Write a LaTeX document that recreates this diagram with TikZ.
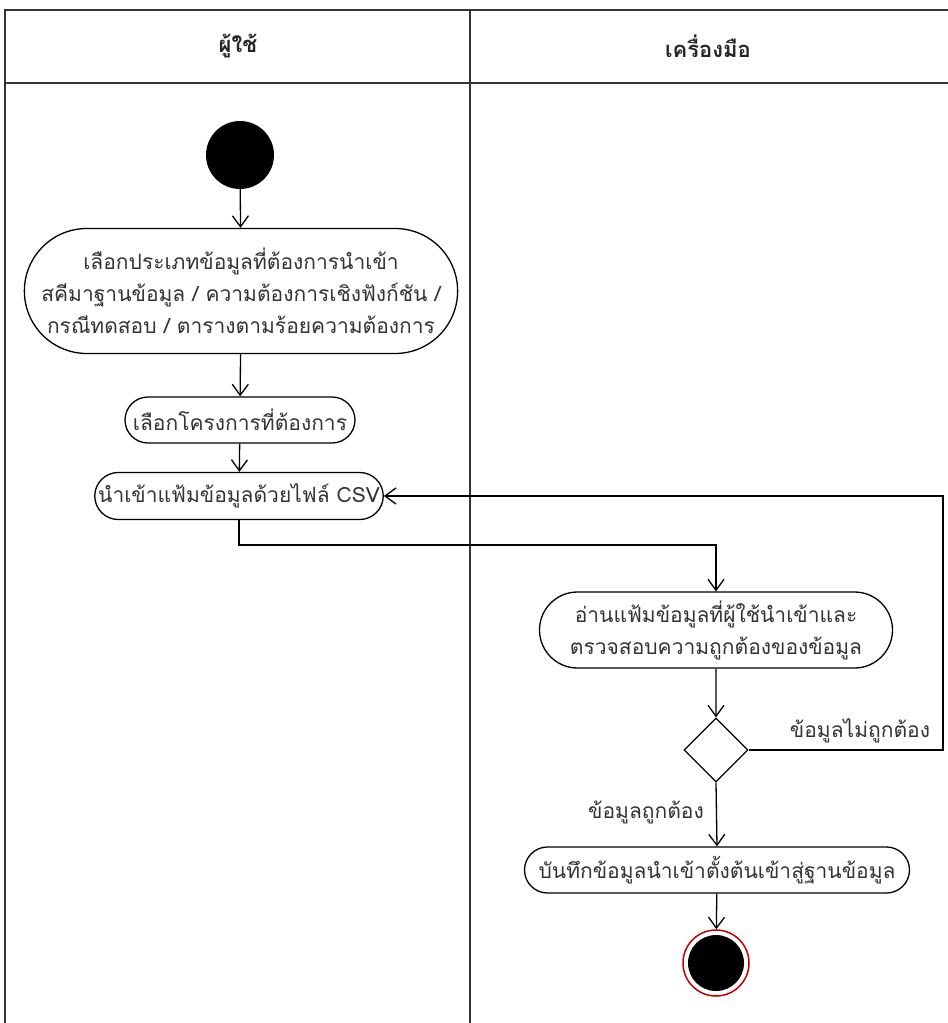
\documentclass[tikz,border=0pt]{standalone}
\usepackage{fontspec}
\setmainfont[Script=Thai]{Loma}
\usetikzlibrary{arrows.meta,shapes.misc,shapes.geometric}
\begin{document}
\begin{tikzpicture}[x=1pt,y=-1pt,
  lane/.style={line width=1.4pt,draw=black!80},
  act/.style={rounded rectangle,draw=black,line width=1.3pt,inner sep=0pt,
    font=\fontsize{21}{32}\selectfont,text=black!80,align=center},
  flow/.style={line width=1.3pt,-{Straight Barb[length=11pt,width=16pt,line width=1.3pt]}},
  lbl/.style={font=\fontsize{21}{26}\selectfont,text=black!80},
  head/.style={font=\fontsize{22}{26}\selectfont\bfseries,text=black!85}]
\useasboundingbox (0,0) rectangle (948,1023);
\fill[white] (0,0) rectangle (948,1023);
% swimlane frame
\draw[lane] (5,1023) -- (5,10) -- (948,10);
\draw[lane] (5,83) -- (948,83);
\draw[lane] (470,10) -- (470,1023);
\node[head] (hu) at (238,46) {ผู้ใช้};
\node[head] (ht) at (708,46) {เครื่องมือ};
% user lane
\node[circle,fill=black,minimum size=68pt,inner sep=0pt] (start) at (240,155) {};
\node[act,minimum width=433pt,minimum height=125pt] (a1) at (241,291)
  {เลือกประเภทข้อมูลที่ต้องการนำเข้า\\สคีมาฐานข้อมูล / ความต้องการเชิงฟังก์ชัน /\\กรณีทดสอบ / ตารางตามร้อยความต้องการ};
\node[act,minimum width=230pt,minimum height=46pt] (a2) at (240,420) {เลือกโครงการที่ต้องการ};
\node[act,minimum width=278pt,minimum height=47pt] (a3) at (239,496) {นำเข้าแฟ้มข้อมูลด้วยไฟล์ CSV};
% tool lane
\node[act,minimum width=353pt,minimum height=76pt] (a4) at (716,630)
  {อ่านแฟ้มข้อมูลที่ผู้ใช้นำเข้าและ\\ตรวจสอบความถูกต้องของข้อมูล};
\node[diamond,draw=black,line width=1.3pt,minimum width=64pt,minimum height=64pt,inner sep=0pt] (d) at (716,750) {};
\node[act,minimum width=385pt,minimum height=46pt] (a5) at (717,870) {บันทึกข้อมูลนำเข้าตั้งต้นเข้าสู่ฐานข้อมูล};
\node[circle,draw=red!75!black,line width=1.5pt,fill=white,minimum size=66pt,inner sep=0pt] (end) at (716,963) {};
\fill[black] (end.center) circle (28);
% flow
\coordinate (mid) at (470,545);
\coordinate (loop) at (943,750);
\draw[flow] (start) -- (a1);
\draw[flow] (a1) -- (a2);
\draw[flow] (a2) -- (a3);
\draw[flow] (a3.south) |- (mid) -| (a4.north);
\draw[flow] (a4) -- (d);
\draw[flow] (d.east) -- (loop) |- (a3.east);
\draw[flow] (d.south) -- (a5.north);
\draw[flow] (a5) -- (end);
\node[lbl] (no) at (860,731) {ข้อมูลไม่ถูกต้อง};
\node[lbl] (yes) at (646,812) {ข้อมูลถูกต้อง};
\end{tikzpicture}
\end{document}
